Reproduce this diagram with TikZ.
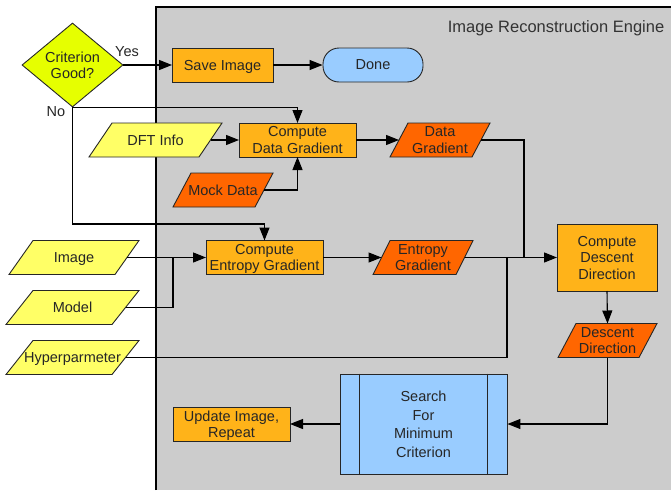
\documentclass[tikz,border=0pt]{standalone}
\usepackage{fontspec}
\setmainfont{Liberation Sans}
\usetikzlibrary{arrows.meta,shapes.geometric}

\definecolor{enginegray}{HTML}{CCCCCC}
\definecolor{decisionfill}{HTML}{E6FF00}
\definecolor{inputfill}{HTML}{FFFF66}
\definecolor{processfill}{HTML}{FFB319}
\definecolor{datafill}{HTML}{FF6600}
\definecolor{terminalfill}{HTML}{99CCFF}
\definecolor{inktext}{HTML}{262626}

% parallelogram data box: name, centre, full width, slant, fill, text
\newcommand\iobox[6]{%
  \filldraw[shapeline, fill=#5] (#2) ++({-(#3)/2},17) -- ++({(#3)-(#4)},0)
    -- ++(#4,-34) -- ++({-((#3)-(#4))},0) -- cycle;
  \node[iotext, minimum width={(#3)*1pt-(#4)*1pt}] (#1) at (#2) {#6};
}

\begin{document}
\begin{tikzpicture}[x=1pt,y=-1pt,
  shapeline/.style={draw=black!85, line width=0.9pt},
  txt/.style={font=\fontsize{14.5}{16.5}\selectfont, text=inktext, align=center, text depth=0pt},
  iotext/.style={txt, minimum height=34pt, inner sep=0pt, outer sep=0pt},
  procbox/.style={txt, shapeline, fill=processfill, rectangle, inner sep=0pt, outer sep=0pt},
  conn/.style={line width=1.1pt, draw=black},
  arr/.style={conn, -{Triangle[length=13pt,width=10pt]}}]

\useasboundingbox (0,0) rectangle (671,490);

% engine panel
\fill[enginegray] (156,7) rectangle (671,490);
\draw[line width=1.3pt] (156,490) -- (156,7) -- (671,7);
\node[font=\fontsize{16.5}{19}\selectfont, text=black!80, text depth=0pt] (title) at (556,27) {Image Reconstruction Engine};

% decision
\node[txt, shape=diamond, shapeline, fill=decisionfill, aspect=1.2, inner sep=0pt,
      minimum width=101pt, minimum height=84pt] (crit) at (72.5,65) {Criterion\\Good?};
\node[txt] (yes) at (127,52) {Yes};
\node[txt] (no) at (56,112) {No};

% process boxes
\node[procbox, minimum width=101pt, minimum height=34pt] (save) at (222.5,65) {Save Image};
\node[txt, shapeline, fill=terminalfill, rounded corners=16pt, inner sep=0pt,
      minimum width=100pt, minimum height=34pt] (done) at (373,65) {Done};
\node[procbox, minimum width=117pt, minimum height=34pt] (cdg) at (297.5,140) {Compute\\Data Gradient};
\node[procbox, minimum width=117pt, minimum height=34pt] (ceg) at (264.5,257.5) {Compute\\Entropy Gradient};
\node[procbox, minimum width=100pt, minimum height=67pt] (cdd) at (607,257.5) {Compute\\Descent\\Direction};
\node[procbox, minimum width=117pt, minimum height=34pt] (upd) at (231.5,424) {Update Image,\\Repeat};

% predefined-process box
\node[txt, shapeline, fill=terminalfill, inner sep=0pt, minimum width=167pt,
      minimum height=100pt] (search) at (423.5,424) {Search\\[2pt]For\\[2pt]Minimum\\[2pt]Criterion};
\draw[shapeline] ([xshift=20pt]search.north west) -- ([xshift=20pt]search.south west);
\draw[shapeline] ([xshift=-20pt]search.north east) -- ([xshift=-20pt]search.south east);

% data boxes
\iobox{dft}{155.5,140}{133}{23}{inputfill}{DFT Info}
\iobox{mock}{223,190}{100}{18}{datafill}{Mock Data}
\iobox{dg}{440,140}{100}{18}{datafill}{Data\\Gradient}
\iobox{eg}{423,257.5}{100}{17}{datafill}{Entropy\\Gradient}
\iobox{dd}{607.5,340.5}{99}{18}{datafill}{Descent\\Direction}
\iobox{img}{74,257.5}{130}{24}{inputfill}{Image}
\iobox{model}{72.5,307.5}{133}{27}{inputfill}{Model}
\iobox{hyp}{72.5,357.5}{133}{27}{inputfill}{Hyperparmeter}

% junction points
\coordinate (nobend) at (72.5,224);
\coordinate (mjoin) at (173,257.5);
\coordinate (dgjoin) at (524,257.5);
\coordinate (hjoin) at (507,257.5);

% connectors
\draw[arr] (crit.east) -- (save.west);
\draw[arr] (save.east) -- (done.west);
\draw[arr] (crit.south) -| (cdg.north);
\draw[arr] (crit.south) -- (nobend) -| (ceg.north);
\draw[arr] (dft.east) -- (cdg.west);
\draw[arr] (mock.east) -| (cdg.south);
\draw[arr] (cdg.east) -- (dg.west);
\draw[conn] (dg.east) -| (dgjoin);
\draw[arr] (img.east) -- (ceg.west);
\draw[conn] (model.east) -| (mjoin);
\draw[arr] (ceg.east) -- (eg.west);
\draw[arr] (eg.east) -- (cdd.west);
\draw[conn] (hyp.east) -| (hjoin);
\draw[arr] (cdd.south) -- (dd.north);
\draw[arr] (dd.south) |- (search.east);
\draw[arr] (search.west) -- (upd.east);
\end{tikzpicture}
\end{document}
